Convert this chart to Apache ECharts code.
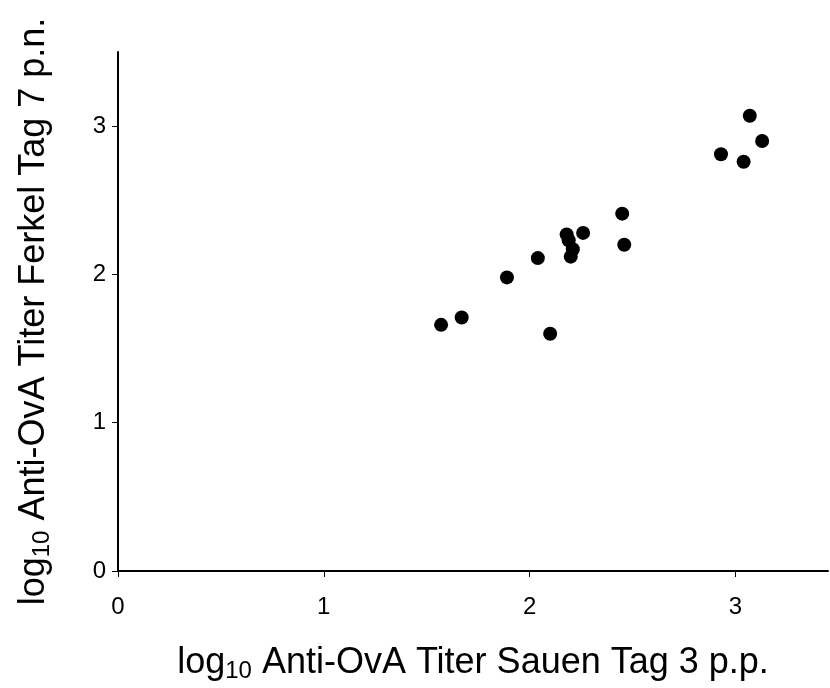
<!DOCTYPE html>
<html><head><meta charset="utf-8">
<script src="https://cdn.jsdelivr.net/npm/echarts@6/dist/echarts.min.js"></script>
<style>html,body{margin:0;padding:0;background:#fff}#c{width:830px;height:688px}</style>
</head><body><div id="c"></div>
<script>
const sowTiter = [1.57, 1.67, 1.89, 2.04, 2.10, 2.18, 2.19, 2.21, 2.20, 2.26, 2.45, 2.46, 3.07, 3.13, 2.93, 3.04];
const pigletTiter = [1.66, 1.71, 1.98, 2.11, 1.60, 2.27, 2.23, 2.17, 2.12, 2.28, 2.41, 2.20, 3.07, 2.90, 2.81, 2.76];
const xTicks = [0, 1, 2, 3];
const yTicks = [0, 1, 2, 3];
const xTitle = 'Anti-OvA Titer Sauen Tag 3 p.p.';
const yTitle = 'Anti-OvA Titer Ferkel Tag 7 p.n.';

const font = 'Liberation Sans, Arial, sans-serif';
const rich = {
  a: {fontSize: 36, fontFamily: font, color: '#000'},
  b: {fontSize: 24, fontFamily: font, color: '#000', padding: [16, 0, 0, 0]}
};
const axisCommon = {
  type: 'value', min: 0, interval: 1, nameLocation: 'middle',
  splitLine: {show: false},
  axisLine: {show: true, onZero: false, lineStyle: {color: '#000', width: 2}},
  axisTick: {show: true, length: 6, lineStyle: {color: '#000', width: 1}},
  axisLabel: {color: '#000', fontSize: 24, fontFamily: font}
};
const chart = echarts.init(document.getElementById('c'));
chart.setOption({
  animation: false,
  grid: {left: 118, right: 2, top: 52, bottom: 116, containLabel: false},
  xAxis: Object.assign({}, axisCommon, {
    max: 3.45,
    name: '{a|log}{b|10}{a| ' + xTitle + '}', nameGap: 72, nameTextStyle: {rich: rich},
    axisTick: Object.assign({}, axisCommon.axisTick, {customValues: xTicks}),
    axisLabel: Object.assign({}, axisCommon.axisLabel, {customValues: xTicks, margin: 24})
  }),
  yAxis: Object.assign({}, axisCommon, {
    max: 3.5,
    name: '{a|log}{b|10}{a| ' + yTitle + '}', nameGap: 64, nameTextStyle: {rich: rich},
    axisTick: Object.assign({}, axisCommon.axisTick, {customValues: yTicks}),
    axisLabel: Object.assign({}, axisCommon.axisLabel, {customValues: yTicks, margin: 12})
  }),
  series: [{
    type: 'scatter', symbolSize: 14,
    itemStyle: {color: '#000', opacity: 1},
    data: sowTiter.map((v, i) => [v, pigletTiter[i]])
  }]
});
</script></body></html>
